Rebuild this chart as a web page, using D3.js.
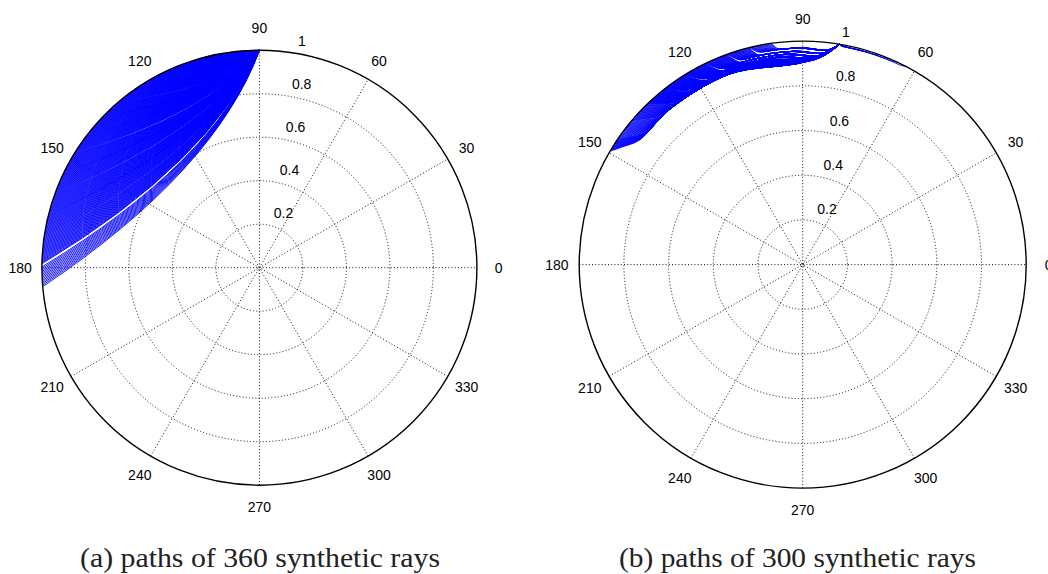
<!DOCTYPE html>
<html>
<head>
<meta charset="utf-8">
<script src="https://cdn.jsdelivr.net/npm/d3@7"></script>
<style>
  body { margin: 0; background: #fff; }
  svg { display: block; }
</style>
</head>
<body>
<svg id="fig" width="1048" height="574"></svg>
<script>
// ---- shared polar axis ticks ----
const angleTicks = [0, 30, 60, 90, 120, 150, 180, 210, 240, 270, 300, 330];
const ringTicks = [0.2, 0.4, 0.6, 0.8];
const radialLabels = [0.2, 0.4, 0.6, 0.8, 1];

// ---- panel (a): 360 rays leaving the source at 90 deg ----
const sourceA = 90;                 // source angle (deg), on the unit circle
const binFromA  = [92, 100, 106, 112, 118, 124, 130, 136, 142, 148, 154, 160, 166, 172, 179.6];
const binToA    = [100, 106, 112, 118, 124, 130, 136, 142, 148, 154, 160, 166, 172, 179.1, 185.2];
const binCountA = [28, 26, 24, 24, 24, 24, 24, 24, 24, 24, 24, 24, 24, 28, 14];
const bendA     = [0.155, 0.15, 0.158, 0.148, 0.155, 0.15, 0.157, 0.15, 0.146, 0.153, 0.148, 0.152, 0.148, 0.15, 0.153];

// ---- panel (b): 300 rays leaving the source near 80 deg ----
const sourceB = 80.5;
const binFromB  = [61, 98, 104, 110, 116, 122, 128, 134, 140, 146];
const binToB    = [79, 104, 110, 116, 122, 128, 134, 140, 146, 149.6];
const binCountB = [7, 26, 34, 40, 44, 44, 42, 25, 20, 18];
const dipB      = [0.008, 0.035, 0.05, 0.062, 0.072, 0.08, 0.086, 0.09, 0.093, 0.096];

const captions = ["(a) paths of 360 synthetic rays", "(b) paths of 300 synthetic rays"];

const svg = d3.select("#fig");
svg.append("rect").attr("width", 1048).attr("height", 574).attr("fill", "#fff");

const rad = d => d * Math.PI / 180;

function polarPanel(cx, cy, R) {
  const g = svg.append("g");
  const x = d3.scaleLinear().domain([-1, 1]).range([cx - R, cx + R]);
  const y = d3.scaleLinear().domain([-1, 1]).range([cy + R, cy - R]);
  const r = d3.scaleLinear().domain([0, 1]).range([0, R]);
  const gridLayer = g.append("g");
  const dataLayer = g.append("g");
  const frameLayer = g.append("g");
  const textLayer = g.append("g");

  // dotted rings
  gridLayer.selectAll("circle.ring").data(ringTicks).join("circle")
    .attr("cx", x(0)).attr("cy", y(0)).attr("r", d => r(d))
    .attr("fill", "none").attr("stroke", "#111").attr("stroke-width", 1)
    .attr("stroke-dasharray", "1,2.2");

  // dotted spokes (full diameters every 30 deg)
  gridLayer.selectAll("line.spoke").data(angleTicks.filter(a => a < 180)).join("line")
    .attr("x1", a => x(-Math.cos(rad(a)))).attr("y1", a => y(-Math.sin(rad(a))))
    .attr("x2", a => x(Math.cos(rad(a)))).attr("y2", a => y(Math.sin(rad(a))))
    .attr("stroke", "#111").attr("stroke-width", 1)
    .attr("stroke-dasharray", "1,2.2");

  // outer frame
  frameLayer.append("circle")
    .attr("cx", x(0)).attr("cy", y(0)).attr("r", r(1))
    .attr("fill", "none").attr("stroke", "#000").attr("stroke-width", 1.4);

  // angle labels
  textLayer.selectAll("text.ang").data(angleTicks).join("text")
    .attr("x", a => x(1.1 * Math.cos(rad(a))))
    .attr("y", a => y(1.1 * Math.sin(rad(a))) + 5)
    .attr("text-anchor", "middle")
    .attr("font-family", "Liberation Sans, Arial, sans-serif")
    .attr("font-size", 14).attr("fill", "#000")
    .text(a => a);

  // radial labels along 82 deg
  const c82 = Math.cos(rad(82)), s82 = Math.sin(rad(82));
  textLayer.selectAll("text.rad").data(radialLabels).join("text")
    .attr("x", v => x((v + 0.01) * c82) + 8)
    .attr("y", v => y((v + 0.01) * s82) - 4)
    .attr("text-anchor", "start")
    .attr("font-family", "Liberation Sans, Arial, sans-serif")
    .attr("font-size", 14).attr("fill", "#000")
    .text(v => v);

  return { g, x, y, r, dataLayer };
}

// ---------- panel (a) ----------
const pa = polarPanel(259.4, 267.7, 217.5);
{
  const S = [Math.cos(rad(sourceA)), Math.sin(rad(sourceA))];
  const rays = [];
  binFromA.forEach((from, i) => {
    const n = binCountA[i];
    for (let j = 0; j < n; j++) {
      rays.push({ exit: from + (binToA[i] - from) * (j + 0.5) / n, bend: bendA[i] });
    }
  });
  // each ray: quadratic arc from the source to its exit point, bowed towards the centre
  const rayPath = d => {
    const E = [Math.cos(rad(d.exit)), Math.sin(rad(d.exit))];
    const dx = E[0] - S[0], dy = E[1] - S[1];
    const L = Math.hypot(dx, dy);
    let nx = dy / L, ny = -dx / L;
    const mx = (S[0] + E[0]) / 2, my = (S[1] + E[1]) / 2;
    if (nx * -mx + ny * -my < 0) { nx = -nx; ny = -ny; }
    const C = [S[0] + 0.37 * dx + d.bend * L * nx, S[1] + 0.37 * dy + d.bend * L * ny];
    const p = d3.path();
    p.moveTo(pa.x(S[0]), pa.y(S[1]));
    p.quadraticCurveTo(pa.x(C[0]), pa.y(C[1]), pa.x(E[0]), pa.y(E[1]));
    return p.toString();
  };
  pa.dataLayer.selectAll("path").data(rays).join("path")
    .attr("d", rayPath)
    .attr("fill", "none").attr("stroke", "#0000ff").attr("stroke-width", 0.9);
}

// ---------- panel (b) ----------
const pb = polarPanel(802.7, 264.6, 223.5);
{
  const rays = [];
  binFromB.forEach((from, i) => {
    const n = binCountB[i];
    for (let j = 0; j < n; j++) {
      rays.push({ exit: from + (binToB[i] - from) * (j + 0.5) / n, dip: dipB[i] });
    }
  });
  const line = d3.line()
    .x(p => pb.x(p[1] * Math.cos(rad(p[0]))))
    .y(p => pb.y(p[1] * Math.sin(rad(p[0]))))
    .curve(d3.curveCatmullRom.alpha(0.5));
  // each ray: dives below the rim near the source, runs along, then turns back up to exit
  const rayPath = d => {
    const D = d.exit - sourceB;
    return line([
      [sourceB, 1],
      [sourceB + 0.13 * D, 1 - 0.95 * d.dip],
      [sourceB + 0.45 * D, 1 - 0.9 * d.dip],
      [sourceB + 0.75 * D, 1 - 0.88 * d.dip],
      [sourceB + 0.9 * D, 1 - 0.85 * d.dip],
      [sourceB + 0.965 * D, 1 - 0.35 * d.dip],
      [d.exit, 1]
    ]);
  };
  pb.dataLayer.selectAll("path").data(rays).join("path")
    .attr("d", rayPath)
    .attr("fill", "none").attr("stroke", "#0000ff").attr("stroke-width", 0.9);
}

// ---------- captions ----------
svg.selectAll("text.caption").data(captions).join("text")
  .attr("class", "caption")
  .attr("x", (d, i) => i === 0 ? 260 : 797.5)
  .attr("y", 567)
  .attr("text-anchor", "middle")
  .attr("font-family", "Liberation Serif, Times New Roman, serif")
  .attr("font-size", 27)
  .attr("fill", "#222")
  .attr("textLength", (d, i) => i === 0 ? 360 : 357)
  .attr("lengthAdjust", "spacingAndGlyphs")
  .text(d => d);
</script>
</body>
</html>
